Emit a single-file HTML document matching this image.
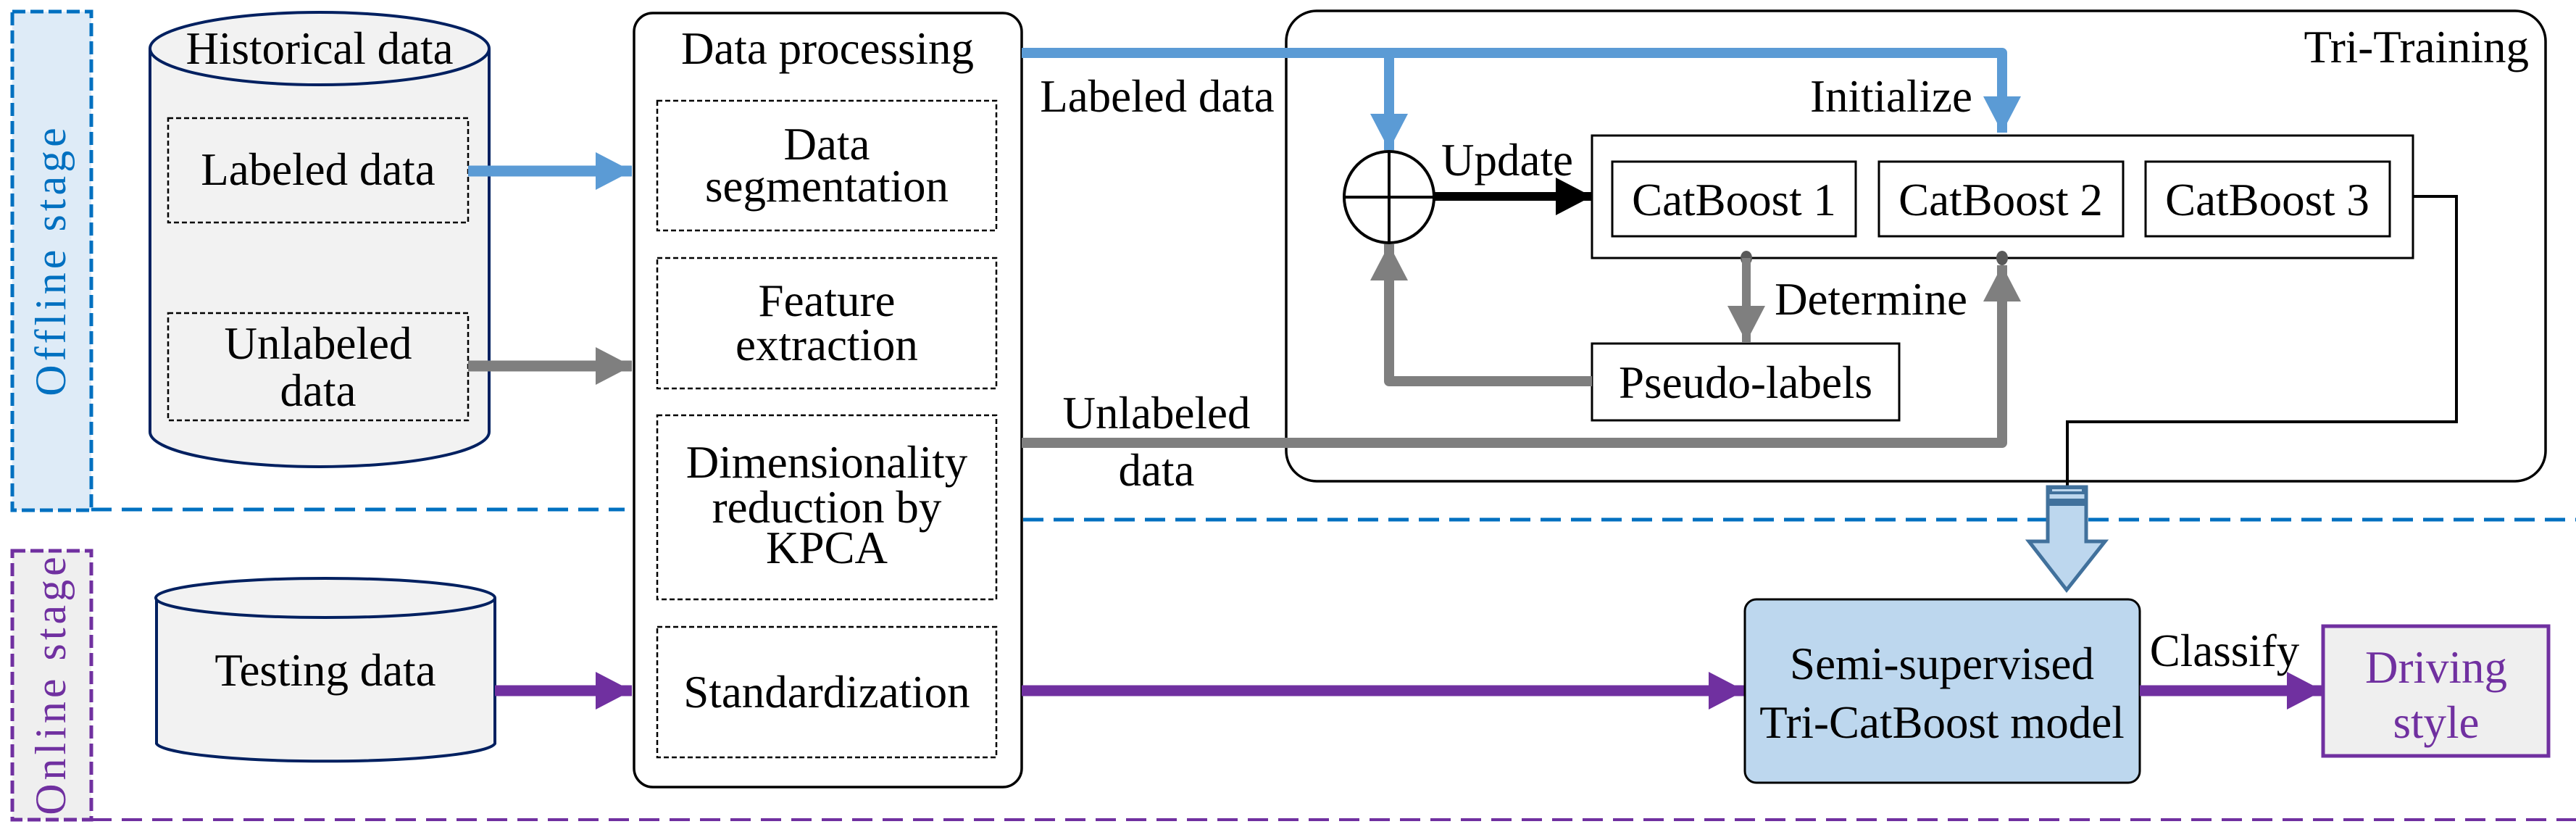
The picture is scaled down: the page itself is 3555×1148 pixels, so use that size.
<!DOCTYPE html>
<html><head><meta charset="utf-8"><style>body{margin:0;background:#fff}svg{display:block}text{font-family:"Liberation Serif",serif;font-size:63px;fill:#000}</style></head><body>
<svg width="3555" height="1148" viewBox="0 0 3555 1148" xmlns="http://www.w3.org/2000/svg">
<defs>
<marker id="ab" markerWidth="10" markerHeight="10" refX="0" refY="0" orient="auto" markerUnits="userSpaceOnUse" overflow="visible"><path d="M-50,-26 L0,0 L-50,26 Z" fill="#5b9bd5"/></marker>
<marker id="ag" markerWidth="10" markerHeight="10" refX="0" refY="0" orient="auto" markerUnits="userSpaceOnUse" overflow="visible"><path d="M-50,-26 L0,0 L-50,26 Z" fill="#7f7f7f"/></marker>
<marker id="ap" markerWidth="10" markerHeight="10" refX="0" refY="0" orient="auto" markerUnits="userSpaceOnUse" overflow="visible"><path d="M-50,-26 L0,0 L-50,26 Z" fill="#7030a0"/></marker>
<marker id="ak" markerWidth="10" markerHeight="10" refX="0" refY="0" orient="auto" markerUnits="userSpaceOnUse" overflow="visible"><path d="M-50,-26 L0,0 L-50,26 Z" fill="#000"/></marker>
</defs>
<rect x="17" y="16" width="109" height="688" fill="#deebf7" stroke="#0070c0" stroke-width="5" stroke-dasharray="18,7"/>
<text transform="translate(90,359) rotate(-90)" text-anchor="middle" style="fill:#0070c0;letter-spacing:5px;font-size:60px">Offline stage</text>
<line x1="126" y1="703" x2="862" y2="703" stroke="#0070c0" stroke-width="5" stroke-dasharray="28,14"/>
<line x1="1412" y1="717" x2="3555" y2="717" stroke="#0070c0" stroke-width="5" stroke-dasharray="28,14"/>
<rect x="17" y="760" width="109" height="371" fill="#efefef" stroke="#7030a0" stroke-width="5" stroke-dasharray="18,7"/>
<text transform="translate(90,944) rotate(-90)" text-anchor="middle" style="fill:#7030a0;letter-spacing:5px;font-size:60px">Online stage</text>
<line x1="126" y1="1131" x2="3555" y2="1131" stroke="#7030a0" stroke-width="4" stroke-dasharray="28,14"/>
<path d="M207,67 L207,596 A234,48 0 0 0 675,596 L675,67" fill="#f2f2f2" stroke="#002060" stroke-width="4"/>
<ellipse cx="441" cy="67" rx="234" ry="50" fill="#f2f2f2" stroke="#002060" stroke-width="4"/>
<text x="441" y="88" text-anchor="middle">Historical data</text>
<rect x="232" y="163" width="414" height="144" fill="none" stroke="#000" stroke-width="2.5" stroke-dasharray="7,4"/>
<text x="439" y="255" text-anchor="middle">Labeled data</text>
<rect x="232" y="432" width="414" height="148" fill="none" stroke="#000" stroke-width="2.5" stroke-dasharray="7,4"/>
<text x="439" y="495" text-anchor="middle">Unlabeled</text>
<text x="439" y="560" text-anchor="middle">data</text>
<path d="M216,825 L216,1026 A234,26 0 0 0 683,1026 L683,825" fill="#f2f2f2" stroke="#002060" stroke-width="4"/>
<ellipse cx="449" cy="825" rx="234" ry="27" fill="#f2f2f2" stroke="#002060" stroke-width="4"/>
<text x="449" y="946" text-anchor="middle">Testing data</text>
<line x1="646" y1="236" x2="872" y2="236" stroke="#5b9bd5" stroke-width="15" marker-end="url(#ab)"/>
<line x1="646" y1="505" x2="872" y2="505" stroke="#7f7f7f" stroke-width="15" marker-end="url(#ag)"/>
<line x1="683" y1="953" x2="872" y2="953" stroke="#7030a0" stroke-width="15" marker-end="url(#ap)"/>
<rect x="875" y="18" width="535" height="1068" rx="26" fill="#fff" stroke="#000" stroke-width="3.5"/>
<text x="1142" y="88" text-anchor="middle">Data processing</text>
<g fill="none" stroke="#000" stroke-width="2.5" stroke-dasharray="7,4">
<rect x="907" y="139" width="468" height="179"/>
<rect x="907" y="356" width="468" height="180"/>
<rect x="907" y="573" width="468" height="254"/>
<rect x="907" y="865" width="468" height="180"/>
</g>
<text x="1141" y="220" text-anchor="middle">Data</text>
<text x="1141" y="278" text-anchor="middle">segmentation</text>
<text x="1141" y="436" text-anchor="middle">Feature</text>
<text x="1141" y="497" text-anchor="middle">extraction</text>
<text x="1141" y="659" text-anchor="middle">Dimensionality</text>
<text x="1141" y="721" text-anchor="middle">reduction by</text>
<text x="1141" y="777" text-anchor="middle">KPCA</text>
<text x="1141" y="976" text-anchor="middle">Standardization</text>
<rect x="1775" y="15" width="1738" height="649" rx="42" fill="none" stroke="#000" stroke-width="3.5"/>
<text x="3490" y="86" text-anchor="end">Tri-Training</text>
<polyline points="1410,73 2763,73 2763,183" fill="none" stroke="#5b9bd5" stroke-width="14" stroke-linejoin="round" marker-end="url(#ab)"/>
<line x1="1917" y1="73" x2="1917" y2="207" stroke="#5b9bd5" stroke-width="14" marker-end="url(#ab)"/>
<text x="1597" y="154" text-anchor="middle">Labeled data</text>
<text x="2610" y="154" text-anchor="middle">Initialize</text>
<polyline points="1410,611 2763,611 2763,366" fill="none" stroke="#7f7f7f" stroke-width="14" stroke-linejoin="round" marker-end="url(#ag)"/>
<text x="1596" y="591" text-anchor="middle">Unlabeled</text>
<text x="1596" y="670" text-anchor="middle">data</text>
<ellipse cx="1917" cy="272" rx="62" ry="63" fill="#fff" stroke="#000" stroke-width="4"/>
<line x1="1855" y1="272" x2="1979" y2="272" stroke="#000" stroke-width="4"/>
<line x1="1917" y1="209" x2="1917" y2="335" stroke="#000" stroke-width="4"/>
<line x1="1980" y1="271" x2="2197" y2="271" stroke="#000" stroke-width="12" marker-end="url(#ak)"/>
<text x="2080" y="242" text-anchor="middle">Update</text>
<rect x="2197" y="187" width="1133" height="169" fill="#fff" stroke="#000" stroke-width="3"/>
<rect x="2225" y="223" width="336" height="103" fill="#fff" stroke="#000" stroke-width="3"/>
<rect x="2593" y="223" width="337" height="103" fill="#fff" stroke="#000" stroke-width="3"/>
<rect x="2961" y="223" width="337" height="103" fill="#fff" stroke="#000" stroke-width="3"/>
<text x="2393" y="297" text-anchor="middle">CatBoost 1</text>
<text x="2761" y="297" text-anchor="middle">CatBoost 2</text>
<text x="3129" y="297" text-anchor="middle">CatBoost 3</text>
<ellipse cx="2410" cy="356" rx="8" ry="10" fill="#595959"/>
<ellipse cx="2763" cy="356" rx="8" ry="10" fill="#595959"/>
<line x1="2410" y1="356" x2="2410" y2="472" stroke="#7f7f7f" stroke-width="12" marker-end="url(#ag)"/>
<text x="2582" y="434" text-anchor="middle">Determine</text>
<rect x="2197" y="474" width="424" height="106" fill="#fff" stroke="#000" stroke-width="3"/>
<text x="2409" y="549" text-anchor="middle">Pseudo-labels</text>
<polyline points="2197,526 1917,526 1917,337" fill="none" stroke="#7f7f7f" stroke-width="14" stroke-linejoin="round" marker-end="url(#ag)"/>
<polyline points="3330,271 3390,271 3390,582 2853,582 2853,672" fill="none" stroke="#000" stroke-width="4"/>
<path d="M2826,672 L2879,672 L2879,747 L2905,747 L2852,814 L2800,747 L2826,747 Z" fill="#bdd7ee" stroke="#41719c" stroke-width="5"/>
<rect x="2826" y="672" width="53" height="10" fill="#41719c"/>
<rect x="2826" y="688" width="53" height="10" fill="#41719c"/>
<rect x="2832" y="675" width="41" height="3" fill="#bdd7ee"/>
<line x1="1410" y1="953" x2="2408" y2="953" stroke="#7030a0" stroke-width="15" marker-end="url(#ap)"/>
<rect x="2408" y="827" width="545" height="253" rx="16" fill="#bdd7ee" stroke="#000" stroke-width="3"/>
<text x="2680" y="937" text-anchor="middle">Semi-supervised</text>
<text x="2680" y="1018" text-anchor="middle">Tri-CatBoost model</text>
<line x1="2953" y1="953" x2="3206" y2="953" stroke="#7030a0" stroke-width="15" marker-end="url(#ap)"/>
<text x="3070" y="919" text-anchor="middle">Classify</text>
<rect x="3206" y="864" width="311" height="179" fill="#efefef" stroke="#7030a0" stroke-width="5"/>
<text x="3362" y="942" text-anchor="middle" style="fill:#7030a0">Driving</text>
<text x="3362" y="1018" text-anchor="middle" style="fill:#7030a0">style</text>
</svg>
</body></html>
